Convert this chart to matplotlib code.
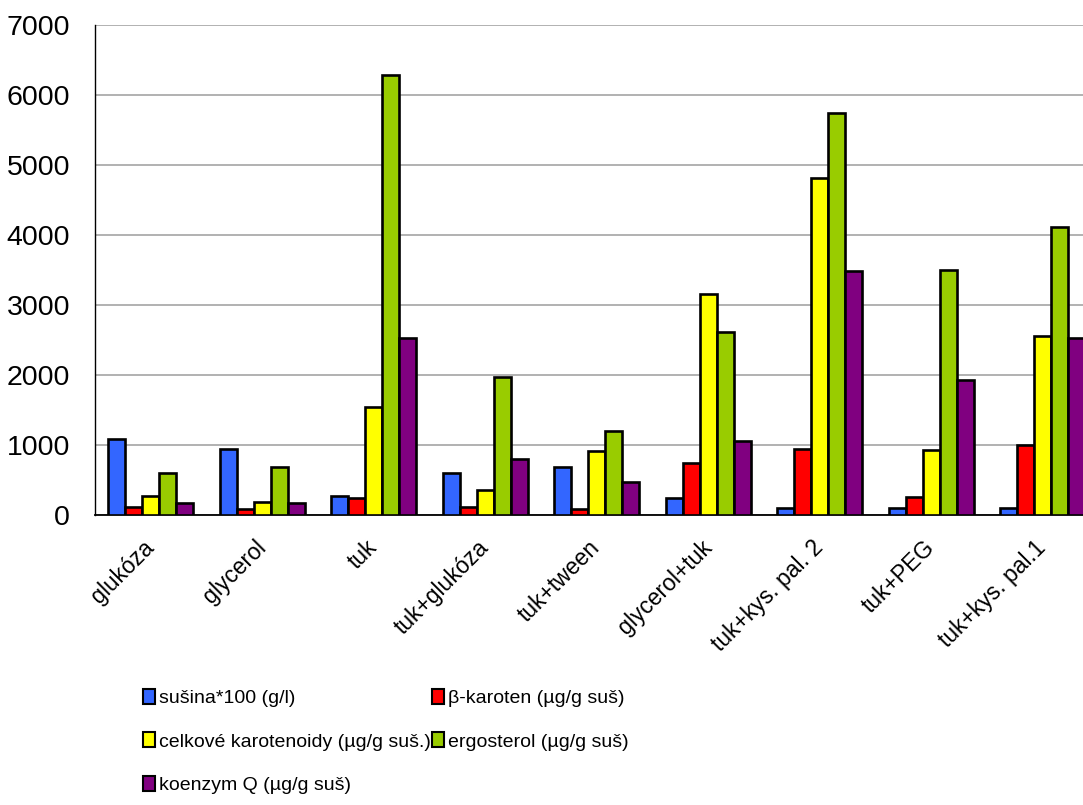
import matplotlib
matplotlib.use('Agg')
from matplotlib import pyplot as plt
import numpy as np

plt.rcParams['font.family'] = ['Liberation Sans', 'DejaVu Sans']

categories = ['glukóza', 'glycerol', 'tuk', 'tuk+glukóza', 'tuk+tween',
              'glycerol+tuk', 'tuk+kys. pal. 2', 'tuk+PEG', 'tuk+kys. pal.1']

susina = [1080, 950, 265, 605, 685, 238, 100, 95, 105]
b_karoten = [115, 80, 238, 110, 80, 748, 943, 257, 1005]
karotenoidy = [276, 181, 1548, 357, 919, 3152, 4820, 933, 2562]
ergosterol = [605, 686, 6280, 1970, 1195, 2610, 5738, 3500, 4119]
koenzym_q = [171, 171, 2533, 805, 467, 1052, 3486, 1929, 2529]

series = [susina, b_karoten, karotenoidy, ergosterol, koenzym_q]
labels = ['sušina*100 (g/l)', 'β-karoten (µg/g suš)',
          'celkové karotenoidy (µg/g suš.)', 'ergosterol (µg/g suš)',
          'koenzym Q (µg/g suš)']
colors = ['#3366FF', '#FF0000', '#FFFF00', '#99CC00', '#800080']

fig = plt.figure(figsize=(10.83, 8.05), dpi=100)
# axes runs past the right edge of the picture, as in the original
ax = fig.add_axes([95/1083, 1 - 515/805, 1003.5/1083, 490/805])

x = np.arange(len(categories))
w = 0.1525
bars = []
for i, (vals, c) in enumerate(zip(series, colors)):
    b = ax.bar(x + (i - 2) * w, vals, w, color=c, edgecolor='black',
               linewidth=1.9, zorder=3)
    bars.append(b)

ax.set_xlim(-0.5, len(categories) - 0.5)
ax.set_ylim(0, 7000)
ax.set_yticks(range(0, 7001, 1000))
ax.yaxis.grid(True, color='#ababab', linewidth=1.3, zorder=0)
ax.set_axisbelow(True)

for s in ['top', 'right']:
    ax.spines[s].set_visible(False)
ax.spines['left'].set_linewidth(1.0)
ax.spines['bottom'].set_linewidth(1.3)
ax.tick_params(axis='y', length=0, pad=18, labelsize=20.5)
ax.tick_params(axis='x', length=0, pad=21)

ax.set_xticks(x)
ax.set_xticklabels(categories, rotation=45, ha='right', va='center',
                   rotation_mode='anchor', fontsize=16.5)

# legend filled row by row like the original
order = [0, 2, 4, 1, 3]
leg = fig.legend([bars[i] for i in order], [labels[i] for i in order],
                 loc='upper left', bbox_to_anchor=(143/1083, 1 - 689/805),
                 ncol=2, frameon=False, fontsize=14, handlelength=0.6,
                 handleheight=0.8, handletextpad=0.2, columnspacing=0.1,
                 labelspacing=1.3, borderpad=0, borderaxespad=0)
for h in leg.legend_handles:
    h.set_linewidth(1.5)

fig.savefig('out.png', dpi=100)
